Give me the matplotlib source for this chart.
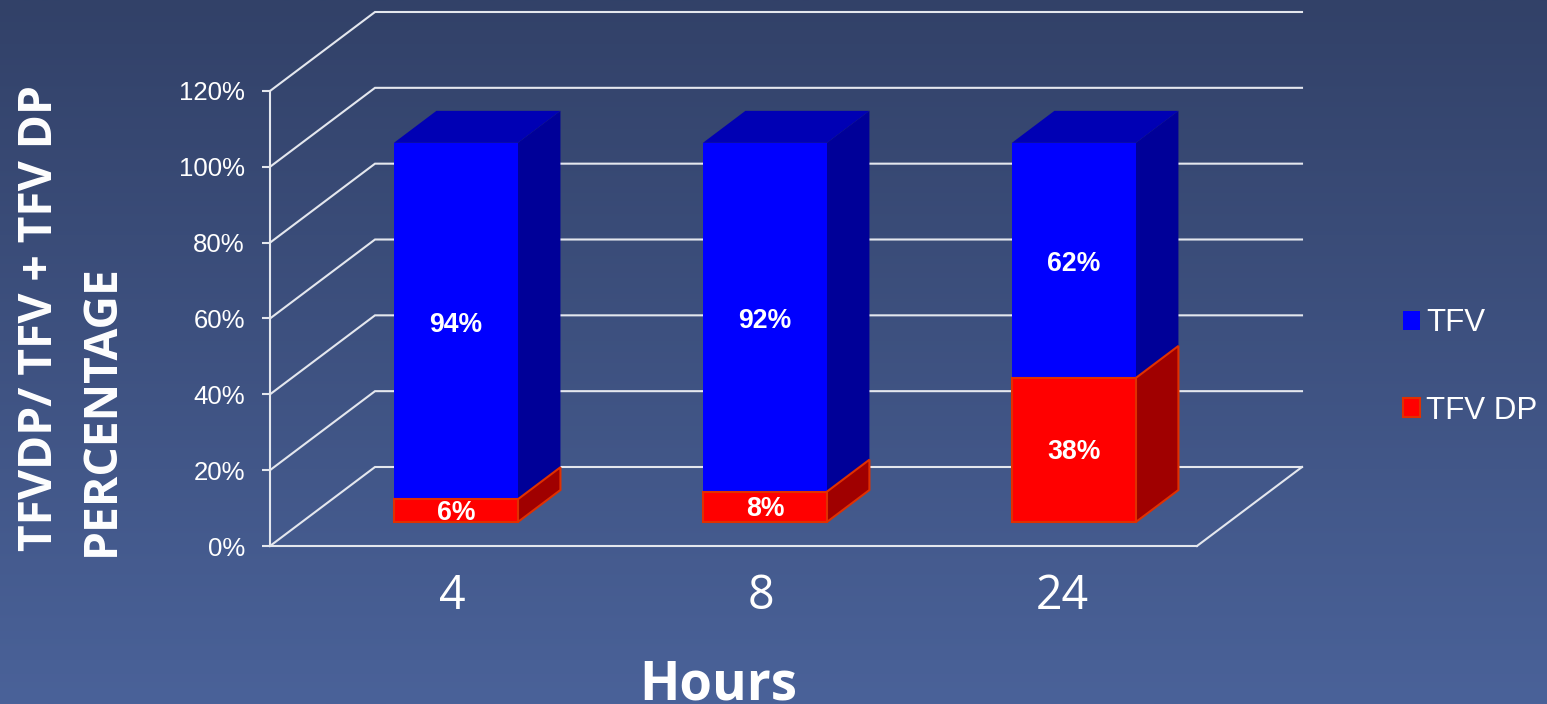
import numpy as np
import matplotlib
matplotlib.use("Agg")
import matplotlib.pyplot as plt
from matplotlib.patches import Polygon, Patch

categories = ["4", "8", "24"]
tfv_dp = [6, 8, 38]
tfv = [94, 92, 62]
series_names = ["TFV", "TFV DP"]
y_ticks = [0, 20, 40, 60, 80, 100, 120]
y_tick_labels = ["0%", "20%", "40%", "60%", "80%", "100%", "120%"]
x_title = "Hours"
y_title_lines = ["TFVDP/ TFV + TFV DP", "PERCENTAGE"]

W, H = 1547, 704
fig = plt.figure(figsize=(W / 100, H / 100), dpi=100)

# background gradient
bg = fig.add_axes([0, 0, 1, 1], zorder=0)
c0 = np.array([0x32, 0x41, 0x68]) / 255
c1 = np.array([0x4a, 0x62, 0x99]) / 255
t = np.linspace(0, 1, 256)[:, None, None]
bg.imshow(c0 + (c1 - c0) * t, aspect="auto", extent=[0, 1, 0, 1])
bg.axis("off")

# plot area: front plane of the 3D box
L, R, B, T = 270, 1197, 546, 91
ax = fig.add_axes([L / W, 1 - B / H, (R - L) / W, (B - T) / H], zorder=1)
ax.patch.set_alpha(0)
ax.set_xlim(0, 3)
ax.set_ylim(0, 120)

px_x = 3 / (R - L)
px_y = 120 / (B - T)
DX, DY = 105 * px_x, 79 * px_y      # full depth of the box


def proj(x, y, d):
    return x + d * DX, y + d * DY


GRID = "#e4e7ee"
for v in y_ticks:
    x0, y0 = proj(0, v, 0)
    x1, y1 = proj(0, v, 1)
    x2, y2 = proj(3, v, 1)
    ax.plot([x0, x1, x2], [y0, y1, y2], color=GRID, lw=1.5, clip_on=False, zorder=1,
            solid_joinstyle="miter")
# floor
x0, y0 = proj(3, 0, 0)
x1, y1 = proj(3, 0, 1)
ax.plot([x0, x1], [y0, y1], color=GRID, lw=1.5, clip_on=False, zorder=1)

D0, D1 = 24 / 79, 56 / 79
BAR = 124 * px_x
SHIFT = -0.5 * px_x
FACE = {"blue": ("#0000ff", "#0000b4", "#000098", "none"),
        "red": ("#ff0000", None, "#a00000", "#e03000")}


def box(i, lo, hi, cols, z):
    xl, xr = i + 0.5 + SHIFT - BAR / 2, i + 0.5 + SHIFT + BAR / 2
    front, top, side, edge = cols
    lw = 1.5 if edge != "none" else 0
    fb = [proj(xl, lo, D0), proj(xr, lo, D0), proj(xr, hi, D0), proj(xl, hi, D0)]
    sd = [proj(xr, lo, D0), proj(xr, lo, D1), proj(xr, hi, D1), proj(xr, hi, D0)]
    tp = [proj(xl, hi, D0), proj(xl, hi, D1), proj(xr, hi, D1), proj(xr, hi, D0)]
    if top is not None:
        ax.add_patch(Polygon(tp, fc=top, ec=edge, lw=lw, clip_on=False, zorder=z))
    ax.add_patch(Polygon(sd, fc=side, ec=edge, lw=lw, clip_on=False, zorder=z))
    ax.add_patch(Polygon(fb, fc=front, ec=edge, lw=lw, clip_on=False, zorder=z + 0.1))


for i, (r, b) in enumerate(zip(tfv_dp, tfv)):
    box(i, r, r + b, FACE["blue"], 3)
    box(i, 0, r, FACE["red"], 4)
    cx, cy = proj(i + 0.5 + SHIFT, r / 2, D0)
    ax.text(cx, cy - 2.5 * px_y, f"{r}%", color="white", fontsize=19.2, fontweight="bold",
            family="Liberation Sans", ha="center", va="center", zorder=6)
    cx, cy = proj(i + 0.5 + SHIFT, r + b / 2, D0)
    ax.text(cx, cy - 3.5 * px_y, f"{b}%", color="white", fontsize=19.2, fontweight="bold",
            family="Liberation Sans", ha="center", va="center", zorder=6)

# axes
for s in ("top", "right"):
    ax.spines[s].set_visible(False)
for s in ("left", "bottom"):
    ax.spines[s].set_color(GRID)
    ax.spines[s].set_linewidth(1.5)
ax.set_yticks(y_ticks, y_tick_labels, fontsize=18.5, family="Liberation Sans")
ax.tick_params(axis="y", colors=GRID, length=6, width=1.5, pad=12, labelcolor="white")
label_shift = [-4, -5, -12]
ax.set_xticks([i + 0.5 + (32 + s) * px_x for i, s in enumerate(label_shift)], categories,
              color="white", fontsize=33.5, family="Open Sans")
ax.tick_params(axis="x", length=0, pad=19)

fig.text(718 / W, 1 - 700 / H, x_title, color="white", fontsize=38, fontweight="bold",
         family="Open Sans", ha="center", va="baseline")
for line, px, py in zip(y_title_lines, [40, 101], [551, 556]):
    fig.text(px / W, 1 - py / H, line, color="white", fontsize=33.3, fontweight="bold",
             family="Open Sans", ha="center", va="bottom", rotation=90, zorder=5)

# legend
handles = [Patch(fc="#0000ff", ec="none"), Patch(fc="#ff0000", ec="#e03000", lw=1.5)]
leg = fig.legend(handles, series_names, loc="center left",
                 bbox_to_anchor=(1403 / W, 1 - 367 / H), frameon=False,
                 prop={"family": "Liberation Sans", "size": 22.5},
                 handlelength=0.55, handleheight=0.55, handletextpad=0.2,
                 labelspacing=1.84, borderpad=0, borderaxespad=0)
for txt in leg.get_texts():
    txt.set_color("white")

fig.savefig("out.png", dpi=100)
